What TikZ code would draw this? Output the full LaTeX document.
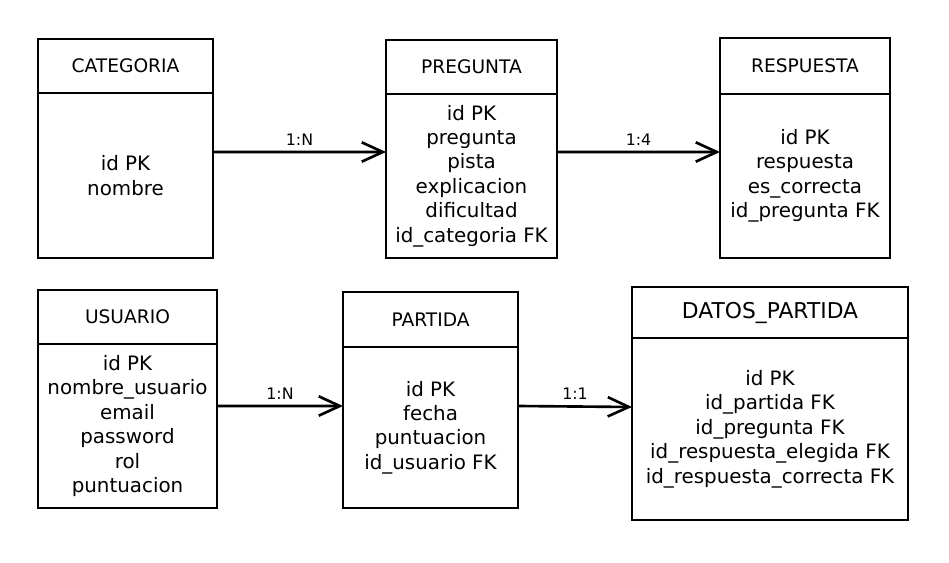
\documentclass[tikz,border=0pt]{standalone}
\usepackage{fontspec}
\setmainfont{DejaVu Sans}
\usetikzlibrary{positioning,arrows.meta}

\begin{document}
\begin{tikzpicture}[
  line width=1.5pt,
  head/.style={draw, outer sep=0pt, inner sep=0pt, anchor=north west,
    minimum height=1.08cm, font=\fontsize{10.6}{12}\selectfont},
  attrs/.style={draw, outer sep=0pt, inner sep=0pt, align=center,
    font=\fontsize{11.3}{13.9}\selectfont},
  rel/.style={-{Straight Barb[length=12pt,width=11pt]}},
  card/.style={midway, above=2pt, inner sep=1pt, font=\fontsize{9}{10}\selectfont}
]

  \useasboundingbox (0,0) rectangle (18.98,-11.26);

  % Upper row of tables
  \node[head, minimum width=3.50cm] (categoriaH) at (0.76,-0.78) {CATEGORIA};
  \node[attrs, minimum width=3.50cm, minimum height=3.30cm, below=0pt of categoriaH] (categoria)
    {id PK\\nombre};

  \node[head, minimum width=3.42cm] (preguntaH) at (7.72,-0.80) {PREGUNTA};
  \node[attrs, minimum width=3.42cm, minimum height=3.28cm, below=0pt of preguntaH] (pregunta)
    {id PK\\pregunta\\pista\\explicacion\\dificultad\\id\_categoria FK};

  \node[head, minimum width=3.40cm, minimum height=1.12cm] (respuestaH) at (14.40,-0.76) {RESPUESTA};
  \node[attrs, minimum width=3.40cm, minimum height=3.28cm, below=0pt of respuestaH] (respuesta)
    {id PK\\respuesta\\es\_correcta\\id\_pregunta FK};

  % Lower row of tables
  \node[head, minimum width=3.58cm] (usuarioH) at (0.76,-5.80) {USUARIO};
  \node[attrs, minimum width=3.58cm, minimum height=3.28cm, below=0pt of usuarioH] (usuario)
    {id PK\\nombre\_usuario\\email\\password\\rol\\puntuacion};

  \node[head, minimum width=3.50cm, minimum height=1.10cm] (partidaH) at (6.86,-5.84) {PARTIDA};
  \node[attrs, minimum width=3.50cm, minimum height=3.22cm, below=0pt of partidaH] (partida)
    {id PK\\fecha\\puntuacion\\id\_usuario FK};

  \node[head, minimum width=5.52cm, minimum height=1.02cm, font=\fontsize{12.4}{14}\selectfont]
    (datosH) at (12.64,-5.74) {DATOS\_PARTIDA};
  \node[attrs, minimum width=5.52cm, minimum height=3.64cm, below=0pt of datosH] (datos)
    {id PK\\id\_partida FK\\id\_pregunta FK\\id\_respuesta\_elegida FK\\id\_respuesta\_correcta FK};

  % Relations
  \draw[rel] ([yshift=0.47cm]categoria.east) -- ([yshift=0.48cm]pregunta.west) node[card] {1:N};
  \draw[rel] ([yshift=0.48cm]pregunta.east) -- ([yshift=0.48cm]respuesta.west) node[card] {1:4};
  \draw[rel] ([yshift=0.40cm]usuario.east) -- ([yshift=0.43cm]partida.west) node[card] {1:N};
  \draw[rel] ([yshift=0.43cm]partida.east) -- ([yshift=0.44cm]datos.west) node[card] {1:1};

\end{tikzpicture}
\end{document}
